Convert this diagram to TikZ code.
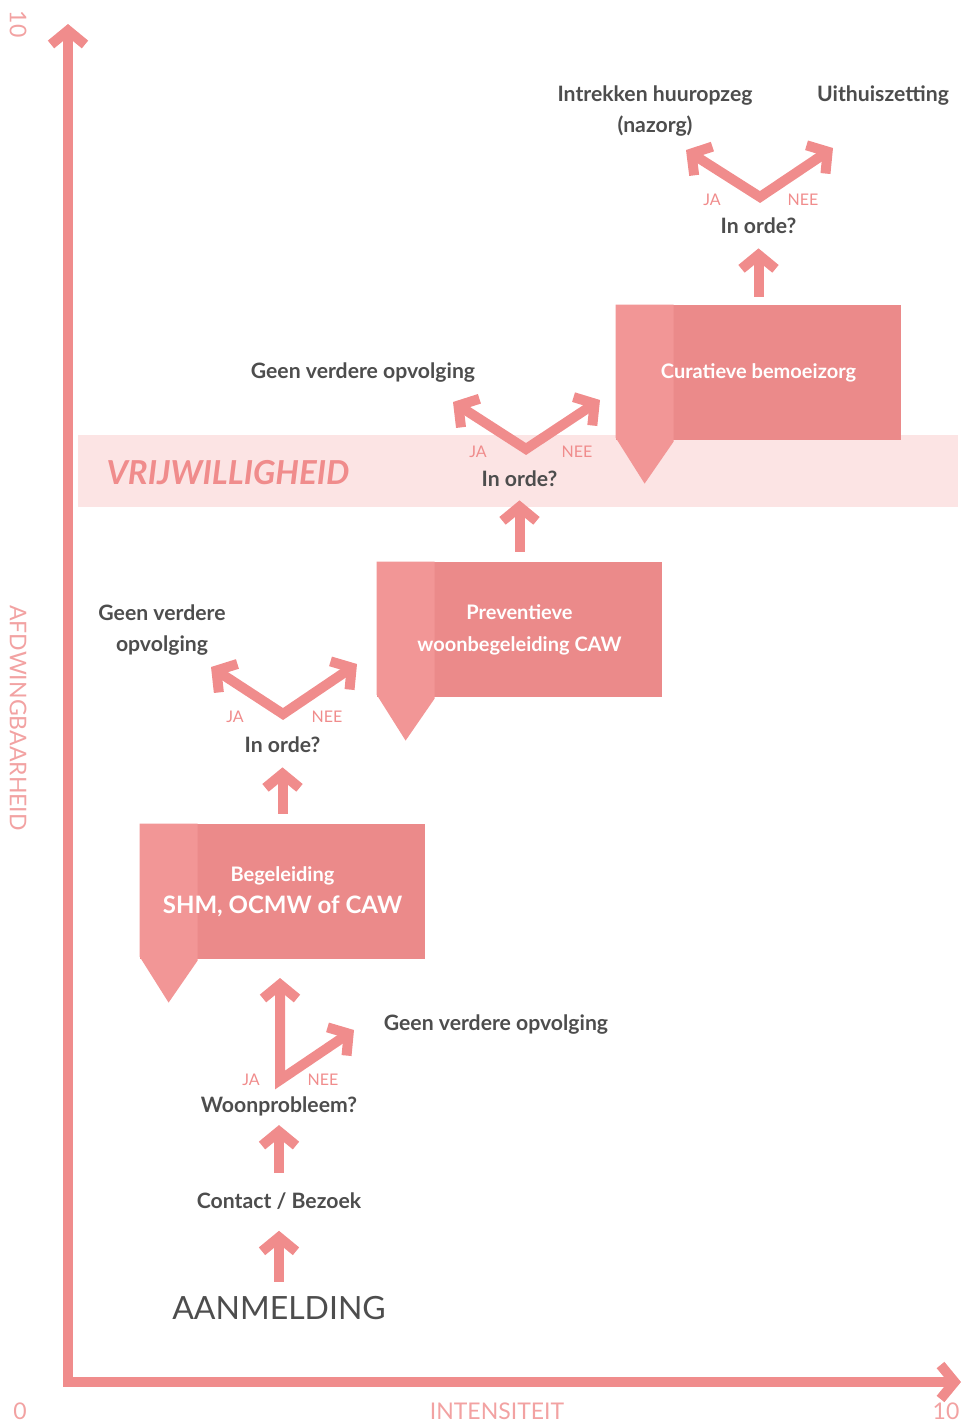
\documentclass[tikz,border=0pt]{standalone}
\usepackage{fontspec}
\setmainfont{Lato}
\usetikzlibrary{arrows.meta,backgrounds}

\definecolor{roze}{HTML}{F08C8C}
\definecolor{boxroze}{HTML}{EB8A8A}
\definecolor{striproze}{HTML}{F29696}
\definecolor{bandroze}{HTML}{FCE4E4}
\definecolor{lichtroze}{HTML}{F2A2A2}
\definecolor{tekst}{HTML}{4D4D4D}

\begin{document}
\begin{tikzpicture}[x=0.5pt, y=-0.5pt,
    pijl/.style={draw=roze, line width=5pt, -{Straight Barb[length=7pt,width=17pt]}},
    vpijl/.style={draw=roze, line width=5pt, {Straight Barb[length=7pt,width=17pt]}-{Straight Barb[length=7pt,width=17pt]}},
    stap/.style={text=tekst, font=\fontsize{10.6}{15.5}\selectfont\bfseries, align=center, inner sep=0pt},
    keuze/.style={text=roze, font=\fontsize{8}{9}\selectfont, inner sep=0pt},
    hulp/.style={text=white, align=center, inner sep=0pt, minimum width=142.5pt, minimum height=67.5pt, font=\fontsize{10}{16}\selectfont\bfseries},
    as/.style={text=lichtroze, font=\fontsize{11.5}{12}\selectfont, inner sep=0pt}]
    \useasboundingbox (0,0) rectangle (965,1425);

    % Vrijwilligheid band
    \begin{scope}[on background layer]
        \fill[bandroze] (78,435) rectangle (958,507);
    \end{scope}
    \node[text=roze, font=\fontsize{16.5}{18}\selectfont\bfseries\itshape, inner sep=0pt] (vrijw) at (228,473) {VRIJWILLIGHEID};

    % Axes
    \draw[draw=roze, line width=5pt, {Straight Barb[length=7pt,width=17pt]}-{Straight Barb[length=7pt,width=17pt]}]
        (68,24) -- (68,1382) -- (961,1382);
    \node[as, rotate=-90] (ymax) at (18,24) {10};
    \node[as, rotate=-90] (yas) at (18,718) {AFDWINGBAARHEID};
    \node[as] (nul) at (20,1411) {0};
    \node[as] (xas) at (497,1411) {INTENSITEIT};
    \node[as] (xmax) at (946,1411) {10};

    % Hulpverlening boxes
    \node[hulp] (curatief) at (758.5,372.5) {Curatieve bemoeizorg};
    \node[hulp] (preventief) at (519.5,629.5) {Preventieve\\woonbegeleiding CAW};
    \node[hulp] (begeleiding) at (282.5,891.5) {Begeleiding\\[0pt]{\fontsize{12}{14}\selectfont SHM, OCMW of CAW}};
    \begin{scope}[on background layer]
        \foreach \b in {curatief,preventief,begeleiding} {
            \fill[boxroze] (\b.north west) rectangle (\b.south east);
            \fill[striproze] (\b.north west) -- ++(58,0) -- ++(0,137) -- ++(-29,42) -- ++(-29,-46) -- cycle;
        }
    \end{scope}

    % Steps and questions
    \node[stap, font=\fontsize{16}{18}\selectfont] (aanmelding) at (279,1308) {AANMELDING};
    \node[stap] (contact) at (279,1201) {Contact / Bezoek};
    \node[stap] (woon) at (279,1106) {Woonprobleem?};
    \node[stap] (geen1) at (496,1025) {Geen verdere opvolging};
    \node[stap] (orde1) at (282.5,745) {In orde?};
    \node[stap] (geen2) at (162,630) {Geen verdere\\opvolging};
    \node[stap] (orde2) at (519.5,479) {In orde?};
    \node[stap] (geen3) at (363,373) {Geen verdere opvolging};
    \node[stap] (orde3) at (758.5,226) {In orde?};
    \node[stap] (intrekken) at (655,111) {Intrekken huuropzeg\\(nazorg)};
    \node[stap] (uithuis) at (883,96) {Uithuiszetting};

    % Up arrows
    \draw[pijl, shorten <=7pt, shorten >=10.5pt] (aanmelding) -- (contact);
    \draw[pijl, shorten <=9.5pt, shorten >=4.5pt] (contact) -- (woon);
    \draw[pijl, shorten <=5pt, shorten >=7pt] (begeleiding.north) -- (orde1);
    \draw[pijl, shorten <=5pt, shorten >=6.5pt] (preventief.north) -- (orde2);
    \draw[pijl, shorten <=4pt, shorten >=7pt] (curatief.north) -- (orde3);

    % JA / NEE branches
    \coordinate (ja1) at (280,978);  \coordinate (v1) at (280,1080); \coordinate (nee1) at (354,1030);
    \coordinate (ja2) at (211,667);  \coordinate (v2) at (283,714);  \coordinate (nee2) at (357,664);
    \coordinate (ja3) at (453,402);  \coordinate (v3) at (526,449);  \coordinate (nee3) at (600,400);
    \coordinate (ja4) at (686,150);  \coordinate (v4) at (760,197);  \coordinate (nee4) at (833,148);
    \foreach \i in {1,...,4} {
        \draw[vpijl] (ja\i) -- (v\i) -- (nee\i);
    }
    \node[keuze] (ja1l) at (251,1080) {JA};  \node[keuze] (nee1l) at (323,1080) {NEE};
    \node[keuze] (ja2l) at (235,717) {JA};   \node[keuze] (nee2l) at (327,717) {NEE};
    \node[keuze] (ja3l) at (478,452) {JA};   \node[keuze] (nee3l) at (577,452) {NEE};
    \node[keuze] (ja4l) at (712,200) {JA};   \node[keuze] (nee4l) at (803,200) {NEE};
\end{tikzpicture}
\end{document}
